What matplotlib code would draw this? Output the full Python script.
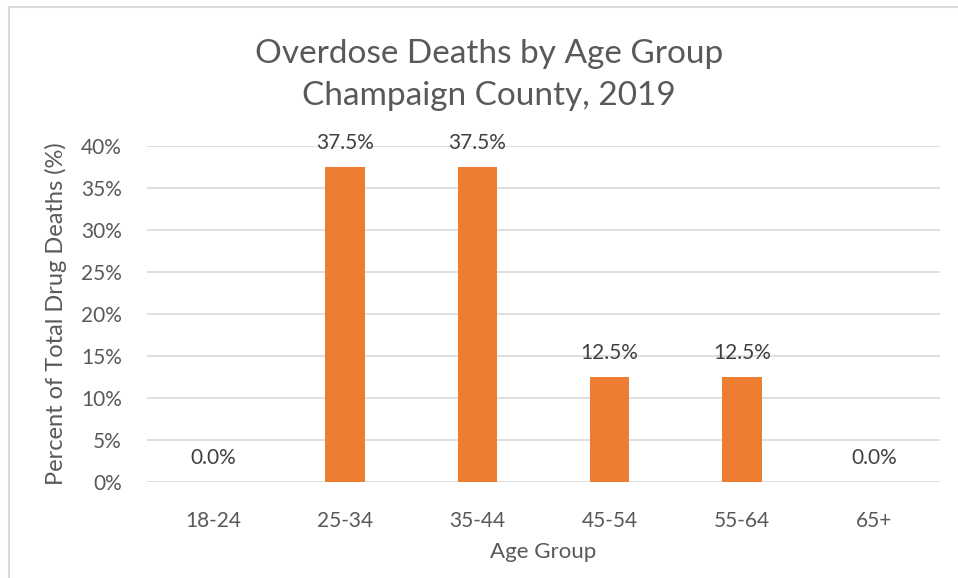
import numpy as np
import matplotlib.pyplot as plt
from matplotlib.lines import Line2D
from matplotlib.ticker import FuncFormatter

plt.rcParams['font.family'] = ['Lato', 'DejaVu Sans']

age_groups = ['18-24', '25-34', '35-44', '45-54', '55-64', '65+']
pct_deaths = [0.0, 37.5, 37.5, 12.5, 12.5, 0.0]

text_color = '#595959'
bar_color = '#ED7D31'
grid_color = '#D9D9D9'

fig = plt.figure(figsize=(9.58, 5.78), dpi=100)
W, H = 958, 578
left, right, top, bottom = 147, 940, 146, 482
ax = fig.add_axes([left / W, 1 - bottom / H, (right - left) / W, (bottom - top) / H])

x = np.arange(len(age_groups))
bars = ax.bar(x, pct_deaths, width=0.3, color=bar_color, zorder=3)

for xi, v in zip(x, pct_deaths):
    ax.annotate(f'{v:.1f}%', (xi, v), xytext=(0, 10), textcoords='offset points',
                ha='center', va='bottom', fontsize=15, color='#404040')

ax.set_xlim(-0.5, len(age_groups) - 0.5)
ax.set_ylim(0, 40)
ax.set_yticks(np.arange(0, 41, 5))
ax.yaxis.set_major_formatter(FuncFormatter(lambda v, p: f'{v:.0f}%'))
ax.set_xticks(x)
ax.set_xticklabels(age_groups)
ax.grid(axis='y', color=grid_color, linewidth=1.2, zorder=0)
for s in ax.spines.values():
    s.set_visible(False)
ax.tick_params(axis='both', length=0, labelsize=15, colors=text_color)
ax.tick_params(axis='x', pad=21)
ax.tick_params(axis='y', pad=18)

ax.set_xlabel('Age Group', fontsize=16, color=text_color, labelpad=8)
ax.set_ylabel('Percent of Total Drug Deaths (%)', fontsize=17, color=text_color, labelpad=10)

fig.text(489 / W, 1 - 75 / H, 'Overdose Deaths by Age Group\nChampaign County, 2019',
         ha='center', va='center', fontsize=24, color=text_color, linespacing=1.5)

# chart frame (only left and top edges visible)
fig.add_artist(Line2D([8.5 / W, 8.5 / W], [0, 1 - 6.5 / H], color=grid_color, linewidth=1.5))
fig.add_artist(Line2D([8.5 / W, 1], [1 - 6.5 / H, 1 - 6.5 / H], color=grid_color, linewidth=1.5))

fig.savefig('out.png', dpi=100)
